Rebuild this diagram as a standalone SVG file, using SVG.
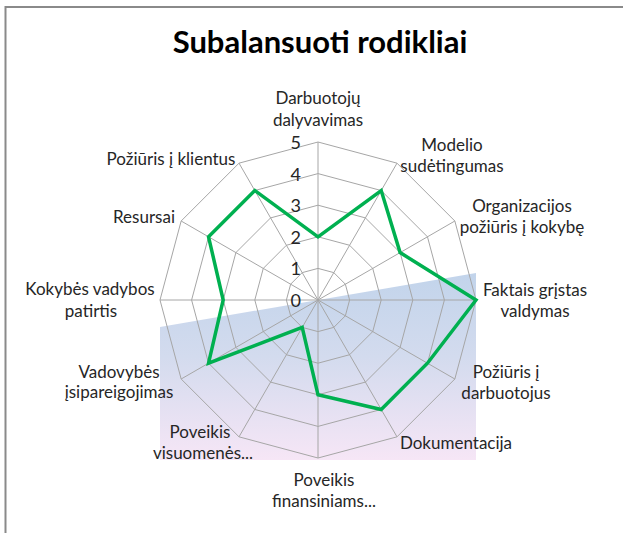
<svg xmlns="http://www.w3.org/2000/svg" width="623" height="533" viewBox="0 0 623 533">
<style>
.frame{fill:none;stroke:#8a8a8a;stroke-width:2}
.grid{fill:none;stroke:#a6a6a6;stroke-width:1}
.series{fill:none;stroke:#00b050;stroke-width:3.5;stroke-linejoin:miter}
.lbl{font-family:Lato,"Liberation Sans",sans-serif;font-size:17px;fill:#262626;text-anchor:middle}
.tick{font-family:Lato,"Liberation Sans",sans-serif;font-size:18px;fill:#262626;text-anchor:end;dominant-baseline:central}
.title{font-family:Lato,"Liberation Sans",sans-serif;font-size:31px;font-weight:bold;fill:#000;text-anchor:middle}
</style>
<defs>
<linearGradient id="bg" x1="0" y1="273" x2="0" y2="460" gradientUnits="userSpaceOnUse">
<stop offset="0" stop-color="#c2d4eb"/>
<stop offset="0.45" stop-color="#d3dbee"/>
<stop offset="1" stop-color="#f6e6f6"/>
</linearGradient>
</defs>
<rect x="0" y="0" width="623" height="533" fill="#fff"/>
<path class="frame" d="M5.5,533 V7 H623"/>
<text class="title" x="320" y="53">Subalansuoti rodikliai</text>
<polygon id="plot-fill" points="160,327 476,273 476,460 160,460" fill="url(#bg)"/>
<g id="grid">
<polygon class="grid" points="318,142 397,163.17 454.83,221 476,300 454.83,379 397,436.83 318,458 239,436.83 181.17,379 160,300 181.17,221 239,163.17"/>
<polygon class="grid" points="318,173.6 381.2,190.54 427.46,236.8 444.4,300 427.46,363.2 381.2,409.46 318,426.4 254.8,409.46 208.54,363.2 191.6,300 208.54,236.8 254.8,190.54"/>
<polygon class="grid" points="318,205.2 365.4,217.9 400.1,252.6 412.8,300 400.1,347.4 365.4,382.1 318,394.8 270.6,382.1 235.9,347.4 223.2,300 235.9,252.6 270.6,217.9"/>
<polygon class="grid" points="318,236.8 349.6,245.27 372.73,268.4 381.2,300 372.73,331.6 349.6,354.73 318,363.2 286.4,354.73 263.27,331.6 254.8,300 263.27,268.4 286.4,245.27"/>
<polygon class="grid" points="318,268.4 333.8,272.63 345.37,284.2 349.6,300 345.37,315.8 333.8,327.37 318,331.6 302.2,327.37 290.63,315.8 286.4,300 290.63,284.2 302.2,272.63"/>
<path class="grid" d="M318,300 L318,142 M318,300 L397,163.17 M318,300 L454.83,221 M318,300 L476,300 M318,300 L454.83,379 M318,300 L397,436.83 M318,300 L318,458 M318,300 L239,436.83 M318,300 L181.17,379 M318,300 L160,300 M318,300 L181.17,221 M318,300 L239,163.17"/>
</g>
<g id="ticks">
<text class="tick" x="301" y="300">0</text>
<text class="tick" x="301" y="268.4">1</text>
<text class="tick" x="301" y="236.8">2</text>
<text class="tick" x="301" y="205.2">3</text>
<text class="tick" x="301" y="173.6">4</text>
<text class="tick" x="301" y="142">5</text>
</g>
<g id="connectors">
<polygon id="series" class="series" points="318,236.8 381.2,190.54 400.1,252.6 476,300 427.46,363.2 381.2,409.46 318,394.8 302.2,327.37 208.54,363.2 223.2,300 208.54,236.8 254.8,190.54"/>
</g>
<g id="n-darbuotoju"><text class="lbl" x="318" y="104">Darbuotojų<tspan x="318" y="126">dalyvavimas</tspan></text></g>
<g id="n-modelio"><text class="lbl" x="452" y="151">Modelio<tspan x="452" y="172">sudėtingumas</tspan></text></g>
<g id="n-organizacijos"><text class="lbl" x="522" y="212">Organizacijos<tspan x="522" y="233">požiūris į kokybę</tspan></text></g>
<g id="n-faktais"><text class="lbl" x="535" y="296">Faktais grįstas<tspan x="535" y="317">valdymas</tspan></text></g>
<g id="n-darbuotojus"><text class="lbl" x="506" y="378">Požiūris į<tspan x="506" y="399">darbuotojus</tspan></text></g>
<g id="n-dokumentacija"><text class="lbl" x="456" y="449">Dokumentacija</text></g>
<g id="n-finansiniams"><text class="lbl" x="324" y="486">Poveikis<tspan x="324" y="507">finansiniams...</tspan></text></g>
<g id="n-visuomenes"><text class="lbl" x="200" y="438">Poveikis<tspan x="203" y="459">visuomenės...</tspan></text></g>
<g id="n-vadovybes"><text class="lbl" x="119" y="378">Vadovybės<tspan x="119" y="398">įsipareigojimas</tspan></text></g>
<g id="n-kokybes"><text class="lbl" x="90" y="295">Kokybės vadybos<tspan x="91" y="317">patirtis</tspan></text></g>
<g id="n-resursai"><text class="lbl" x="144" y="223">Resursai</text></g>
<g id="n-klientus"><text class="lbl" x="171" y="165">Požiūris į klientus</text></g>
</svg>
